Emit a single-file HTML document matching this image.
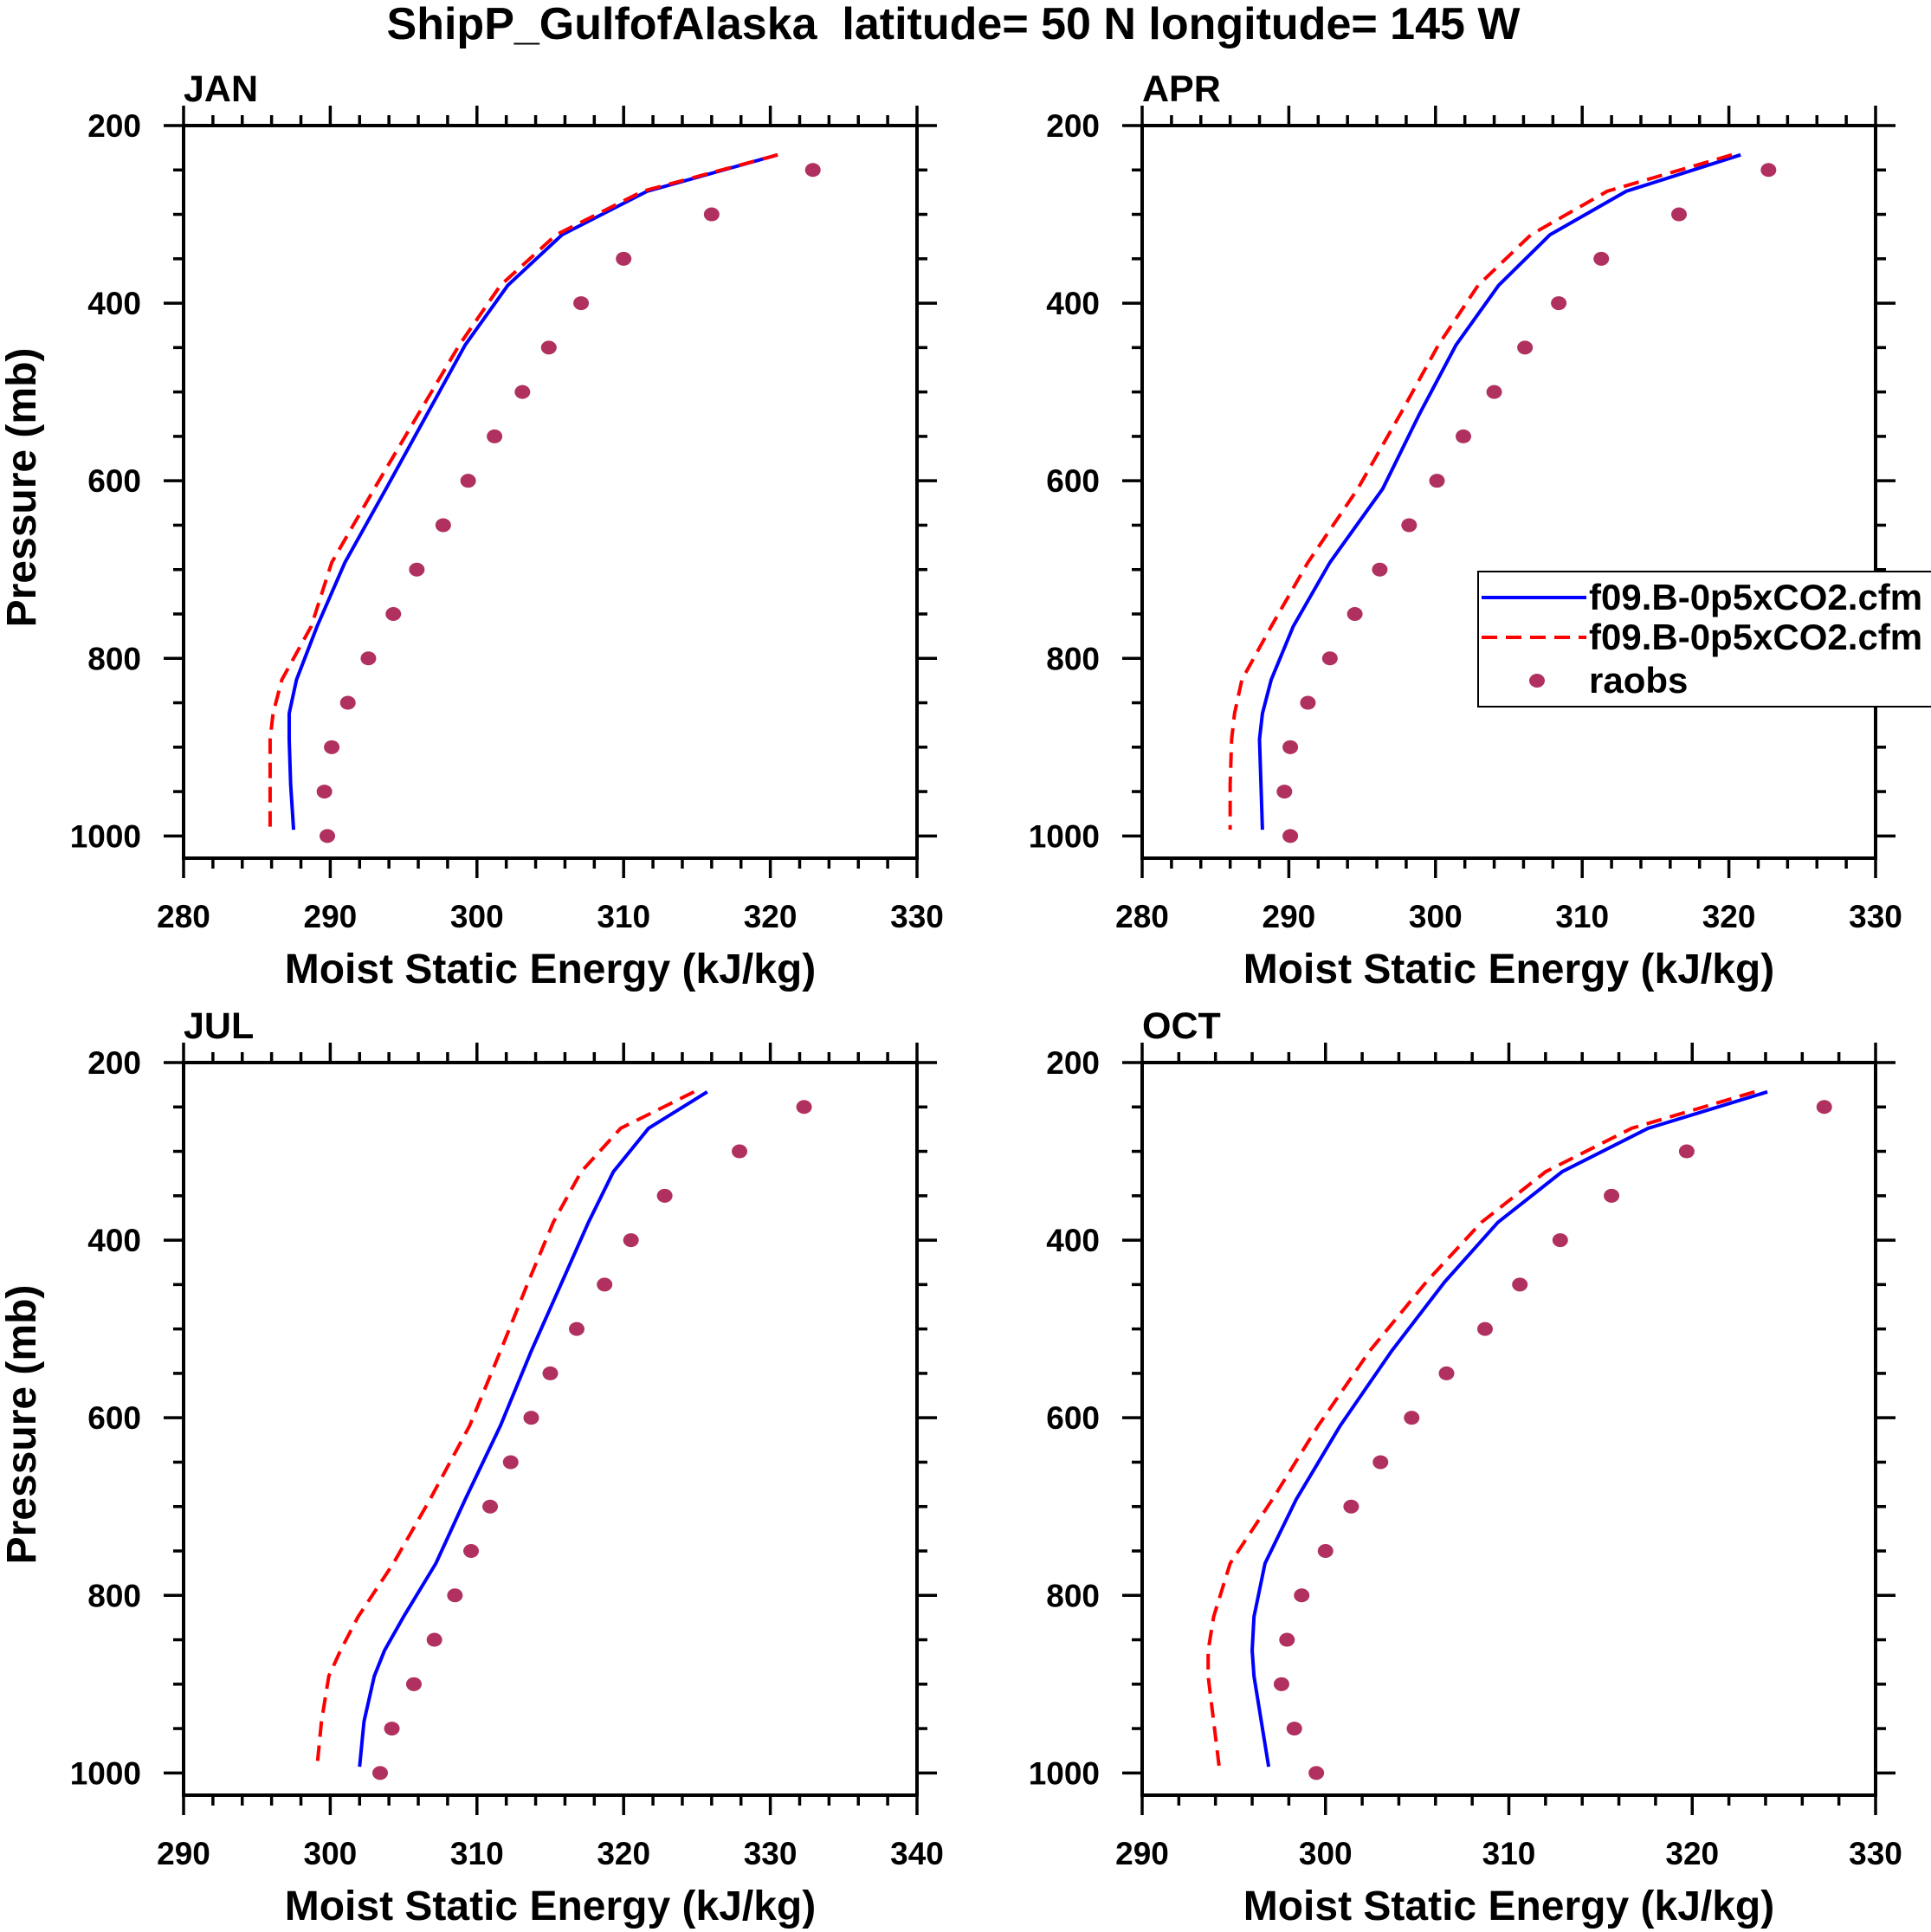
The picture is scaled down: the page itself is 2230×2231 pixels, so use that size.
<!DOCTYPE html>
<html><head><meta charset="utf-8"><style>
html,body{margin:0;padding:0;background:#fff}
svg{display:block;font-family:"Liberation Sans",sans-serif;font-weight:bold}
</style></head><body>
<svg id="c" width="2230" height="2231" viewBox="0 0 2230 2231">
<text x="1101" y="45" font-size="52" text-anchor="middle">ShipP_GulfofAlaska&#160; latitude= 50 N longitude= 145 W</text>
</svg>
<script>
const modelLevels=[233,274,323,380,447,525,609,692,764,824,862,891,942,993];
const obsLevels=[250,300,350,400,450,500,550,600,650,700,750,800,850,900,950,1000];
const months=["JAN","APR","JUL","OCT"];
const blueJan=[320.5,311.6,305.8,302.1,299.2,296.6,293.8,291.0,289.1,287.7,287.2,287.2,287.3,287.5];
const redJan=[320.5,311.3,305.4,301.6,298.8,296.0,293.0,290.1,288.7,286.7,286.1,285.9,285.9,285.9];
const obsJan=[322.9,316.0,310.0,307.1,304.9,303.1,301.2,299.4,297.7,295.9,294.3,292.6,291.2,290.1,289.6,289.8];
const blueApr=[320.8,313.0,307.8,304.3,301.4,298.9,296.4,292.8,290.3,288.8,288.2,288.0,288.1,288.2];
const redApr=[320.2,311.7,306.5,302.9,300.2,297.6,294.7,291.3,288.8,286.8,286.3,286.1,286.0,286.0];
const obsApr=[322.7,316.6,311.3,308.4,306.1,304.0,301.9,300.1,298.2,296.2,294.5,292.8,291.3,290.1,289.7,290.1];
const blueJul=[325.7,321.7,319.3,317.6,315.8,313.7,311.6,309.2,307.2,305.0,303.7,303.0,302.3,302.0];
const redJul=[324.8,319.8,317.1,315.2,313.5,311.6,309.5,306.8,304.3,301.9,300.7,299.9,299.4,299.1];
const obsJul=[332.3,327.9,322.8,320.5,318.7,316.8,315.0,313.7,312.3,310.9,309.6,308.5,307.1,305.7,304.2,303.4];
const blueOct=[324.1,317.6,312.9,309.4,306.5,303.6,300.8,298.4,296.7,296.1,296.0,296.1,296.5,296.9];
const redOct=[323.4,316.7,312.0,308.5,305.5,302.4,299.6,297.1,294.8,293.9,293.6,293.6,293.9,294.2];
const obsOct=[327.2,319.7,315.6,312.8,310.6,308.7,306.6,304.7,303.0,301.4,300.0,298.7,297.9,297.6,298.3,299.5];
const xRanges=[[280,330],[280,330],[290,340],[290,330]];
const yTicks=[200,400,600,800,1000];
const legendLabels=["f09.B-0p5xCO2.cfm","f09.B-0p5xCO2.cfm","raobs"];

const NS="http://www.w3.org/2000/svg";
const svg=document.getElementById("c");
function mk(tag,attrs,parent){const e=document.createElementNS(NS,tag);for(const k in attrs)e.setAttribute(k,attrs[k]);(parent||svg).appendChild(e);return e;}
const W=847,H=846;
const origins=[[212,145],[1319,145],[212,1227],[1319,1227]];
const allData=[[blueJan,redJan,obsJan],[blueApr,redApr,obsApr],[blueJul,redJul,obsJul],[blueOct,redOct,obsOct]];

months.forEach((m,i)=>{
  const [L,T]=origins[i];const [x0,x1]=xRanges[i];
  const sx=v=>L+(v-x0)/(x1-x0)*W;
  const sy=p=>T+(p-200)/(1025-200)*H;
  const g=mk("g",{});
  
  
  const lab=mk("text",{x:L,y:T-28,"font-size":43},g);lab.textContent=m;
  
  
  for(let p=200;p<=1000;p+=50){
    const maj=p%200===0;const len=maj?23:12;const y=sy(p);
    mk("line",{x1:L-len,x2:L,y1:y,y2:y,stroke:"#000","stroke-width":3.5},g);
    mk("line",{x1:L+W,x2:L+W+len,y1:y,y2:y,stroke:"#000","stroke-width":3.5},g);
  }
  yTicks.forEach(p=>{const t=mk("text",{x:L-49,y:sy(p)+13,"font-size":37,"text-anchor":"end"},g);t.textContent=p;
    
    });
  for(let v=x0;v<=x1;v+=2){
    const maj=(v-x0)%10===0;const len=maj?23:12;const x=sx(v);
    mk("line",{x1:x,x2:x,y1:T+H,y2:T+H+len,stroke:"#000","stroke-width":3.5},g);
    mk("line",{x1:x,x2:x,y1:T-len,y2:T,stroke:"#000","stroke-width":3.5},g);
    if(maj){const t=mk("text",{x:x,y:T+H+80,"font-size":37,"text-anchor":"middle"},g);t.textContent=v;
      
      }
  }
  mk("rect",{x:L,y:T,width:W,height:H,fill:"none",stroke:"#000","stroke-width":4},g);
  const xt=mk("text",{x:L+W/2,y:T+H+144,"font-size":48,"text-anchor":"middle"},g);xt.textContent="Moist Static Energy (kJ/kg)";
  
  
  if(i%2===0){const yt=mk("text",{x:0,y:0,"font-size":48,"text-anchor":"middle",transform:`translate(41,${T+H/2-5}) rotate(-90)`},g);yt.textContent="Pressure (mb)";
    
    }
  const [b,r,o]=allData[i];
  const pb=mk("polyline",{points:b.map((v,k)=>sx(v)+","+sy(modelLevels[k])).join(" "),fill:"none",stroke:"#0000ff","stroke-width":4},g);
  
  
  const pr=mk("polyline",{points:r.map((v,k)=>sx(v)+","+sy(modelLevels[k])).join(" "),fill:"none",stroke:"#ff0000","stroke-width":4,"stroke-dasharray":"18,10"},g);
  
  
  o.forEach((v,k)=>{const c=mk("ellipse",{cx:sx(v),cy:sy(obsLevels[k]),rx:9,ry:8,fill:"#b03060"},g);
    
    });
});
const lg=mk("g",{});


mk("rect",{x:1707,y:660,width:530,height:156,fill:"#fff",stroke:"#000","stroke-width":2},lg);
const rows=[690,736,786];
mk("line",{x1:1711,x2:1832,y1:rows[0],y2:rows[0],stroke:"#0000ff","stroke-width":4},lg);
mk("line",{x1:1711,x2:1832,y1:rows[1],y2:rows[1],stroke:"#ff0000","stroke-width":4,"stroke-dasharray":"18,10"},lg);
mk("ellipse",{cx:1775,cy:rows[2],rx:9,ry:8,fill:"#b03060"},lg);
legendLabels.forEach((s,k)=>{const t=mk("text",{x:1835,y:rows[k]+14,"font-size":42},lg);t.textContent=s;
  
  });
</script>
</body></html>
